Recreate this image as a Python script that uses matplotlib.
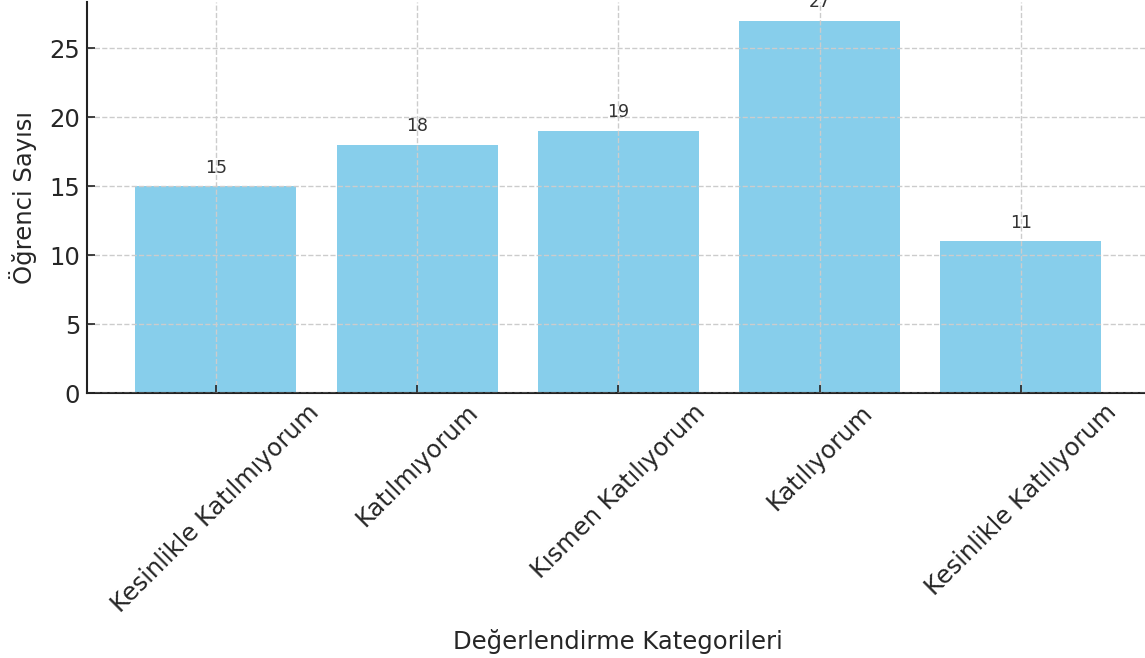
import matplotlib
matplotlib.use("Agg")
import matplotlib.pyplot as plt

# Anket sonuçları
categories = [
    "Kesinlikle Katılmıyorum",
    "Katılmıyorum",
    "Kısmen Katılıyorum",
    "Katılıyorum",
    "Kesinlikle Katılıyorum",
]
counts = [15, 18, 19, 27, 11]

plt.rcParams["font.family"] = ["DejaVu Sans"]
text_color = "#262626"

fig = plt.figure(figsize=(11.45, 6.58), dpi=100)
ax = fig.add_axes([0.076, 0.4027, 0.928, 0.594])

bars = ax.bar(categories, counts, color="skyblue", width=0.8)

for i, v in enumerate(counts):
    ax.text(i, v + 0.7, str(v), ha="center", va="bottom",
            fontsize=12.5, color="#333333")

ax.set_xlabel("Değerlendirme Kategorileri", fontsize=17.5, color=text_color, labelpad=9)
ax.set_ylabel("Öğrenci Sayısı", fontsize=17.5, color=text_color, labelpad=9)

ax.set_xticks(range(len(categories)))
ax.set_xticklabels(categories, rotation=45, fontsize=17.5, color=text_color)
ax.tick_params(axis="y", labelsize=17.5, labelcolor=text_color, pad=5)
ax.tick_params(axis="x", pad=5)
ax.tick_params(direction="in", length=6, width=1.2, color="#222222")

ax.grid(True, linestyle="--", color="#cccccc", linewidth=1)
ax.set_axisbelow(False)

for side in ["top", "right"]:
    ax.spines[side].set_visible(False)
for side in ["left", "bottom"]:
    ax.spines[side].set_color("#222222")
    ax.spines[side].set_linewidth(1.5)

fig.savefig("out.png", dpi=100)
plt.close(fig)
